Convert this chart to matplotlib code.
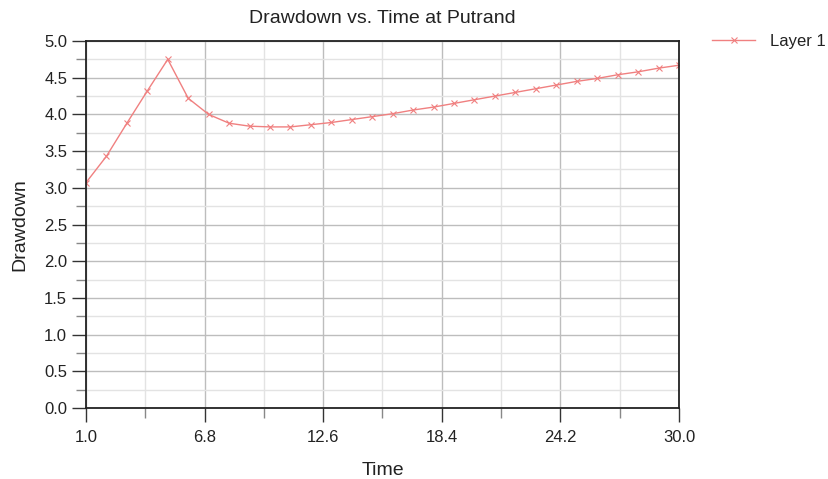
import matplotlib
matplotlib.use("Agg")
from matplotlib import pyplot as plt
from matplotlib.ticker import MultipleLocator, FixedLocator, FormatStrFormatter
import numpy as np

plt.rcParams['font.family'] = ['Liberation Sans', 'DejaVu Sans']

time = np.arange(1, 31)
drawdown = [3.07, 3.43, 3.88, 4.32, 4.75, 4.22, 4.00, 3.88, 3.84, 3.83,
            3.83, 3.86, 3.89, 3.93, 3.97, 4.01, 4.06, 4.10, 4.15, 4.20,
            4.25, 4.30, 4.35, 4.40, 4.45, 4.49, 4.54, 4.58, 4.63, 4.67]
x_ticks = [1.0, 6.8, 12.6, 18.4, 24.2, 30.0]

fig = plt.figure(figsize=(8.29, 4.79), dpi=100)
ax = fig.add_axes([0.1037, 0.148, 0.7153, 0.7664])

ax.plot(time, drawdown, color='#f08080', lw=1.0, marker='x', ms=4.5,
        mew=0.8, label='Layer 1')

ax.set_xlim(1.0, 30.0)
ax.set_ylim(0.0, 5.0)
ax.xaxis.set_major_locator(FixedLocator(x_ticks))
minor_x = [(a + b) / 2 for a, b in zip(x_ticks[:-1], x_ticks[1:])]
ax.xaxis.set_minor_locator(FixedLocator(minor_x))
ax.yaxis.set_major_locator(MultipleLocator(0.5))
ax.yaxis.set_minor_locator(MultipleLocator(0.25))
ax.set_xticklabels(['%.1f' % t for t in x_ticks])
ax.yaxis.set_major_formatter(FormatStrFormatter('%.1f'))

ax.grid(which='major', color='#bdbdbd', lw=1.0)
ax.grid(which='minor', color='#e3e3e3', lw=1.0)
ax.set_axisbelow(True)

ax.tick_params(which='major', direction='out', length=10, width=1.0,
               labelsize=12, color='#333333', labelcolor='#222222')
ax.tick_params(axis='x', which='major', pad=6)
ax.tick_params(which='minor', direction='out', length=7, width=1.0,
               color='#888888')
for side in ['left', 'bottom', 'right', 'top']:
    ax.spines[side].set_color('#222222')
    ax.spines[side].set_linewidth(1.3)

ax.set_title('Drawdown vs. Time at Putrand', fontsize=14, pad=13,
             color='#222222')
ax.set_xlabel('Time', fontsize=14, labelpad=12, color='#222222')
ax.set_ylabel('Drawdown', fontsize=14, labelpad=11, color='#222222')

fig.legend(loc='center left', bbox_to_anchor=(0.859, 0.914), frameon=False,
           fontsize=12, borderpad=0, borderaxespad=0,
           handlelength=2.6, handletextpad=0.9, labelcolor='#222222')

fig.savefig('out.png', dpi=100)
